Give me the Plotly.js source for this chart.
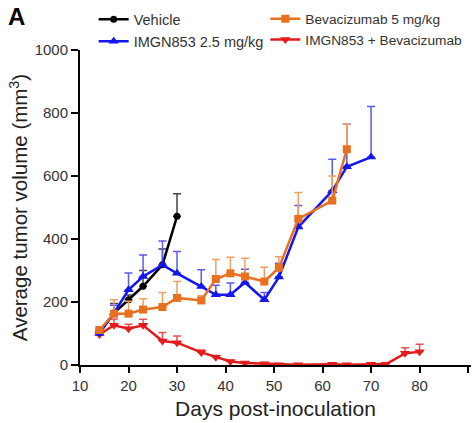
<!DOCTYPE html>
<html>
<head>
<meta charset="utf-8">
<script src="https://cdn.plot.ly/plotly-3.0.1.min.js"></script>
<style>html,body{margin:0;padding:0;background:#fff;}#chart{width:472px;height:423px;}</style>
</head>
<body>
<div id="chart"></div>
<script>
// Data
var vehicleDays = [14, 17, 20, 23, 27, 30];
var vehicleVol  = [104, 165, 207, 250, 318, 472];
var vehicleErr  = [10, 30, 15, 50, 50, 72];

var bevDays = [14, 17, 20, 23, 27, 30, 35, 38, 41, 44, 48, 51, 55, 62, 65];
var bevVol  = [111, 163, 163, 176, 184, 213, 205, 273, 291, 281, 265, 309, 464, 522, 685];
var bevErr  = [10, 44, 39, 34, 46, 52, 15, 62, 51, 58, 45, 35, 84, 78, 80];

var imgnDays = [14, 17, 20, 23, 27, 30, 35, 38, 41, 44, 48, 51, 55, 62, 65, 70];
var imgnVol  = [100, 165, 239, 281, 318, 291, 249, 223, 223, 262, 207, 279, 438, 553, 629, 660];
var imgnErr  = [10, 25, 53, 68, 76, 69, 53, 30, 37, 42, 23, 44, 68, 100, 135, 161];

var comboDays = [14, 17, 20, 23, 27, 30, 35, 38, 41, 44, 48, 51, 55, 62, 65, 70, 73, 77, 80];
var comboVol  = [97, 126, 115, 126, 76, 71, 40, 25, 11, 6, 4, 1, 1, 2, 1, 2, 2, 37, 42];
var comboErr  = [8, 20, 14, 19, 27, 21, 8, 5, 3, 2, 2, 1, 1, 1, 1, 1, 1, 18, 24];

var seriesNames = ['Vehicle', 'Bevacizumab 5 mg/kg', 'IMGN853 2.5 mg/kg', 'IMGN853 + Bevacizumab'];
var xTickVals = [10, 20, 30, 40, 50, 60, 70, 80, 90];
var xTickText = ['10', '20', '30', '40', '50', '60', '70', '80', ' '];
var yTickVals = [0, 200, 400, 600, 800, 1000];

function mk(name, x, y, err, color, errColor, symbol, size, legendId, rank) {
  return {
    type: 'scatter', mode: 'lines+markers', name: name, x: x, y: y,
    legend: legendId, legendrank: rank,
    line: {color: color, width: 2.5},
    marker: {color: color, symbol: symbol, size: size},
    error_y: {type: 'data', symmetric: false, array: err,
              arrayminus: err.map(function(){return 0;}),
              color: errColor, thickness: 1.5, width: 4}
  };
}

var tVehicle = mk(seriesNames[0], vehicleDays, vehicleVol, vehicleErr, '#000000', '#444444', 'circle', 7, 'legend', 1);
var tBev     = mk(seriesNames[1], bevDays, bevVol, bevErr, '#E8701E', '#F0A060', 'square', 8, 'legend2', 1);
var tImgn    = mk(seriesNames[2], imgnDays, imgnVol, imgnErr, '#1515F0', '#5A5AF5', 'triangle-up', 9, 'legend', 2);
var tCombo   = mk(seriesNames[3], comboDays, comboVol, comboErr, '#E41A1C', '#EE5050', 'triangle-down', 9, 'legend2', 2);

var legendCommon = {orientation: 'v', xanchor: 'left', yanchor: 'top', itemwidth: 30,
                    bgcolor: 'rgba(0,0,0,0)', tracegroupgap: 0, traceorder: 'normal'};

var layout = {
  width: 472, height: 423,
  margin: {l: 80, r: 1, t: 50, b: 58},
  paper_bgcolor: '#ffffff', plot_bgcolor: '#ffffff',
  font: {family: 'Liberation Sans, Arial, sans-serif', color: '#333333', size: 15},
  showlegend: true,
  legend: Object.assign({}, legendCommon, {x: 0.035, y: 1.148, font: {size: 14.5, color: '#333333'}}),
  legend2: Object.assign({}, legendCommon, {x: 0.474, y: 1.148, font: {size: 13.7, color: '#333333'}}),
  xaxis: {range: [10, 90.6], tickvals: xTickVals, ticktext: xTickText,
          showgrid: false, zeroline: false, showline: true, linecolor: '#000', linewidth: 2,
          ticks: 'outside', ticklen: 6, tickwidth: 2, tickcolor: '#000',
          tickfont: {size: 15, color: '#333'},
          title: {text: 'Days post-inoculation', font: {size: 21, color: '#222'}, standoff: 8}},
  yaxis: {range: [0, 1000], tickvals: yTickVals, showgrid: false, zeroline: false,
          showline: true, linecolor: '#000', linewidth: 2,
          ticks: 'outside', ticklen: 7, tickwidth: 2, tickcolor: '#000',
          tickfont: {size: 15, color: '#333'},
          title: {text: 'Average tumor volume (mm<sup>3</sup>)', font: {size: 20.5, color: '#222'}, standoff: 1}},
  annotations: [{text: '<b>A</b>', xref: 'paper', yref: 'paper', x: -0.19, y: 1.157,
                 xanchor: 'left', yanchor: 'top', showarrow: false,
                 font: {size: 24, color: '#000', family: 'Liberation Sans, Arial, sans-serif'}}]
};

Plotly.newPlot('chart', [tCombo, tVehicle, tImgn, tBev], layout, {staticPlot: true, displayModeBar: false});
</script>
</body>
</html>
